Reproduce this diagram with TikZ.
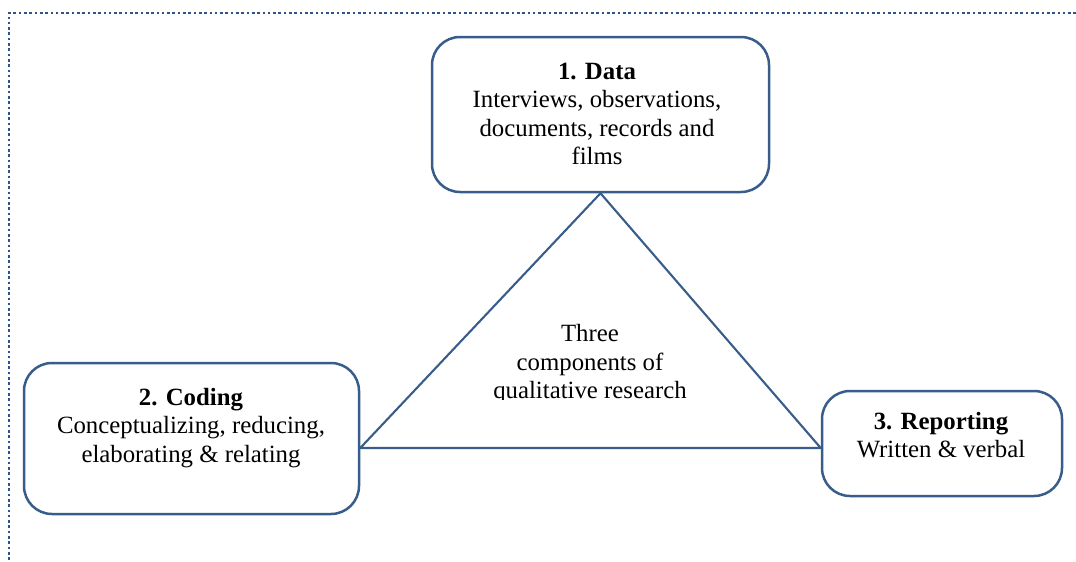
\documentclass[tikz,border=0pt]{standalone}
\usepackage{fontspec}
\setmainfont{Liberation Serif}
\definecolor{frameblue}{RGB}{56,93,138}
\definecolor{dotblue}{RGB}{47,84,140}
\begin{document}
\begin{tikzpicture}[x=1pt,y=-1pt,
  box/.style={draw=frameblue,line width=2.5pt,rounded corners=28pt,inner sep=0pt},
  label/.style={align=center,inner sep=0pt,font=\fontsize{24.8}{28.5}\selectfont},
  tri/.style={draw=frameblue,line width=2.1pt,line join=miter}]
\useasboundingbox (0,0) rectangle (1076,562);
% dotted page frame (top and left edges)
\draw[dotblue,line width=2.6pt,dash pattern=on 2.6pt off 2.7pt] (1076,13) -- (9,13) -- (9,562);
% the three boxes
\node[box,minimum width=337pt,minimum height=155pt] (data) at (600.5,114.5) {};
\node[box,minimum width=335pt,minimum height=151pt] (coding) at (191.5,438.5) {};
\node[box,minimum width=240pt,minimum height=105pt] (reporting) at (942,443.5) {};
% box texts
\node[label] (datatext) at (597,114) {\textbf{1. Data}\\Interviews, observations,\\documents, records and\\films};
\node[label] (codingtext) at (191,428) {\textbf{2. Coding}\\Conceptualizing, reducing,\\elaborating \& relating};
\node[label] (reportingtext) at (941,435) {\textbf{3. Reporting}\\Written \& verbal};
% triangle joining the boxes
\coordinate (apex) at (data.south);
\coordinate (lv) at (coding.east |- 0,448);
\coordinate (rv) at (reporting.west |- 0,448);
\draw[tri] (apex) -- (lv) -- (rv) -- cycle;
% caption inside the triangle, cut off at the bottom of its frame
\begin{scope}
\clip (440,300) rectangle (740,399.5);
\node[label] (centertext) at (590,364.5) {Three\\components of\\qualitative research};
\end{scope}
\end{tikzpicture}
\end{document}
